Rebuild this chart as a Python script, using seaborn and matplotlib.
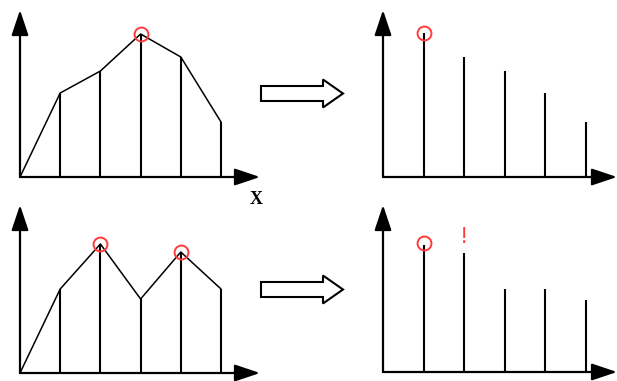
import matplotlib
matplotlib.use("Agg")
import matplotlib.pyplot as plt
import seaborn as sns
import numpy as np
from matplotlib.patches import Polygon

sns.set_theme(style="white")

# ---- data (heights of samples) ----
pos_left = [0, 1, 2, 3, 4, 5]
top_curve = [0, 84, 106, 143, 120, 55]
bottom_curve = [0, 84, 129, 74, 121, 84]

pos_right = [1, 2, 3, 4, 5]
top_sorted = [144, 120, 106, 84, 55]
bottom_sorted = [127, 119, 83, 83, 72]

top_peaks = [3]          # index of peak in top curve
bottom_peaks = [2, 4]    # indices of peaks in bottom curve
marker_labels = ["!"]

W, H = 617, 381
fig = plt.figure(figsize=(W / 100, H / 100), dpi=100)
fig.patch.set_facecolor("white")

def add_panel(x0, x1, ytop, ybase, step):
    ax = fig.add_axes([x0 / W, (H - ybase) / H, (x1 - x0) / W, (ybase - ytop) / H])
    ax.set_xlim(0, (x1 - x0) / step)
    ax.set_ylim(0, ybase - ytop)
    ax.axis("off")
    ax.patch.set_alpha(0)
    style = "-|>,head_length=1.55,head_width=0.52"
    ax.annotate("", xy=(1, 0), xytext=(0, 0), xycoords="axes fraction",
                arrowprops=dict(arrowstyle=style, mutation_scale=10, lw=1.6,
                                color="black", shrinkA=0, shrinkB=0),
                annotation_clip=False)
    ax.annotate("", xy=(0, 1), xytext=(0, 0), xycoords="axes fraction",
                arrowprops=dict(arrowstyle=style, mutation_scale=10, lw=1.6,
                                color="black", shrinkA=0, shrinkB=0),
                annotation_clip=False)
    return ax

red = "#ff3b3b"
mk = dict(marker="o", ls="none", mfc="none", mec=red, ms=10, mew=1.4, clip_on=False)

# Panel 1
ax1 = add_panel(20, 260, 10, 177, 40.2)
sns.lineplot(x=pos_left, y=top_curve, ax=ax1, color="black", lw=1.1, sort=False)
ax1.vlines(pos_left[1:], 0, top_curve[1:], color="black", lw=1.5)
ax1.plot([pos_left[i] for i in top_peaks], [top_curve[i] for i in top_peaks], **mk)

# Panel 2
ax2 = add_panel(383, 617, 10, 177, 40.5)
ax2.vlines(pos_right, 0, top_sorted, color="black", lw=1.5)
ax2.plot([pos_right[0]], [top_sorted[0]], **mk)

# Panel 3
ax3 = add_panel(20, 260, 205, 373, 40.2)
sns.lineplot(x=pos_left, y=bottom_curve, ax=ax3, color="black", lw=1.1, sort=False)
ax3.vlines(pos_left[1:], 0, bottom_curve[1:], color="black", lw=1.5)
ax3.plot([pos_left[i] for i in bottom_peaks], [bottom_curve[i] for i in bottom_peaks], **mk)

# Panel 4
ax4 = add_panel(383, 617, 205, 372, 40.5)
ax4.vlines(pos_right, 0, bottom_sorted, color="black", lw=1.5)
ax4.plot([pos_right[0]], [bottom_sorted[0] + 2], **mk)
ax4.text(pos_right[1], bottom_sorted[1] + 6, marker_labels[0], color=red,
         ha="center", va="bottom", fontsize=15, family="DejaVu Sans")

# x label
fig.text(256 / W, (H - 199) / H, "X", family="Liberation Serif", fontweight="bold",
         fontsize=13, ha="center", va="center", color="black")

# block arrows
def block_arrow(yc):
    pts = [(261, yc - 7.5), (323, yc - 7.5), (323, yc - 14), (343, yc),
           (323, yc + 14), (323, yc + 7.5), (261, yc + 7.5)]
    pts = [(x / W, (H - y) / H) for x, y in pts]
    fig.add_artist(Polygon(pts, closed=True, facecolor="white", edgecolor="black",
                           lw=1.5, transform=fig.transFigure, joinstyle="miter"))

block_arrow(93.5)
block_arrow(289.5)

fig.savefig("out.png", dpi=100, facecolor="white")
